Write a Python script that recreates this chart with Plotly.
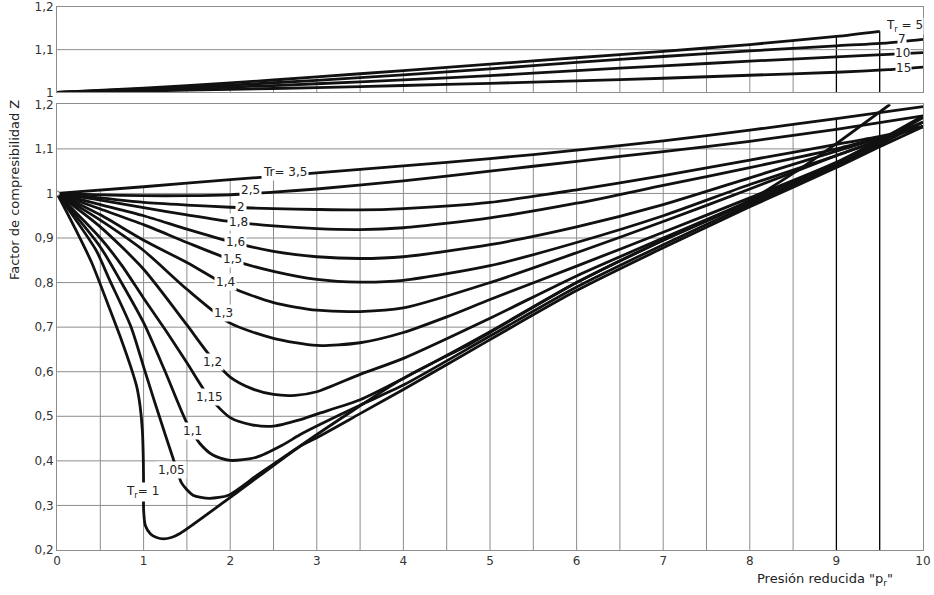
import numpy as np
import plotly.graph_objects as go

# ---------------- data ----------------
# Upper panel: high reduced temperatures
PR_T5 = [0, 1, 2, 3, 4, 5, 6, 7, 8, 9, 9.5]
Z_T5 = [1.0, 1.010, 1.022, 1.036, 1.051, 1.066, 1.081, 1.096, 1.112, 1.131, 1.143]
PR_T7 = [0, 1, 2, 3, 4, 5, 6, 7, 8, 9, 9.6, 10]
Z_T7 = [1.0, 1.008, 1.017, 1.028, 1.041, 1.055, 1.070, 1.084, 1.097, 1.109, 1.116, 1.124]
PR_T10 = [0, 1, 2, 3, 4, 5, 6, 7, 8, 9, 9.6, 10]
Z_T10 = [1.0, 1.006, 1.012, 1.020, 1.029, 1.039, 1.051, 1.062, 1.073, 1.083, 1.089, 1.093]
PR_T15 = [0, 1, 2, 3, 4, 5, 6, 7, 8, 9, 9.6, 10]
Z_T15 = [1.0, 1.003, 1.007, 1.011, 1.016, 1.021, 1.027, 1.033, 1.040, 1.047, 1.053, 1.059]

# Lower panel
PR_35 = [0, 1, 2, 3, 4, 5, 6, 7, 8, 9, 10]
Z_35 = [1.0, 1.015, 1.031, 1.046, 1.062, 1.078, 1.097, 1.118, 1.142, 1.168, 1.195]
PR_25 = [0, 0.5, 1, 1.5, 2, 2.5, 3, 4, 5, 6, 7, 8, 9, 10]
Z_25 = [1.0, 0.997, 0.995, 0.995, 0.997, 1.003, 1.010, 1.028, 1.050, 1.072, 1.094, 1.117, 1.144, 1.174]
PR_20 = [0, 0.5, 1, 1.5, 2, 2.5, 3, 3.5, 4, 5, 6, 7, 8, 9, 9.5, 10]
Z_20 = [1.0, 0.990, 0.980, 0.974, 0.969, 0.966, 0.964, 0.963, 0.966, 0.980, 1.008, 1.040, 1.075, 1.110, 1.128, 1.150]
PR_18 = [0, 0.5, 1, 1.5, 2, 2.5, 3, 3.5, 4, 5, 6, 7, 8, 9, 9.5, 10]
Z_18 = [1.0, 0.985, 0.968, 0.952, 0.937, 0.927, 0.921, 0.919, 0.923, 0.945, 0.978, 1.018, 1.058, 1.100, 1.125, 1.150]
PR_16 = [0, 0.5, 1, 1.5, 2, 2.5, 3, 3.5, 4, 5, 6, 7, 8, 9, 9.5, 10]
Z_16 = [1.0, 0.975, 0.950, 0.920, 0.892, 0.870, 0.858, 0.854, 0.858, 0.885, 0.925, 0.975, 1.035, 1.095, 1.124, 1.150]
PR_15 = [0, 0.5, 1, 1.5, 2, 2.5, 3, 3.5, 4, 5, 6, 7, 8, 9, 9.5, 10]
Z_15 = [1.0, 0.965, 0.930, 0.890, 0.852, 0.825, 0.807, 0.801, 0.805, 0.838, 0.890, 0.950, 1.020, 1.085, 1.120, 1.150]
PR_14 = [0, 0.5, 1, 1.5, 2, 2.5, 3, 3.5, 4, 5, 6, 7, 8, 9, 9.5, 10]
Z_14 = [1.0, 0.952, 0.895, 0.845, 0.790, 0.755, 0.738, 0.735, 0.743, 0.800, 0.867, 0.937, 1.010, 1.085, 1.120, 1.160]
PR_13 = [0, 0.5, 1, 1.5, 2, 2.5, 3, 3.5, 4, 4.5, 5, 6, 7, 8, 9, 9.5, 10]
Z_13 = [1.0, 0.940, 0.872, 0.785, 0.709, 0.675, 0.659, 0.665, 0.688, 0.723, 0.762, 0.837, 0.913, 0.990, 1.070, 1.120, 1.174]
PR_12 = [0, 0.5, 1, 1.5, 1.75, 2, 2.25, 2.5, 2.75, 3, 3.5, 4, 5, 6, 7, 8, 9, 9.5, 10]
Z_12 = [1.0, 0.925, 0.830, 0.705, 0.640, 0.588, 0.562, 0.549, 0.547, 0.555, 0.594, 0.630, 0.720, 0.815, 0.900, 0.983, 1.068, 1.115, 1.174]
PR_115 = [0, 0.5, 0.75, 1, 1.25, 1.5, 1.75, 2, 2.25, 2.5, 2.8, 3, 3.5, 4, 5, 6, 7, 8, 9, 9.5, 10]
Z_115 = [1.0, 0.900, 0.838, 0.765, 0.694, 0.620, 0.545, 0.497, 0.481, 0.478, 0.492, 0.505, 0.537, 0.585, 0.690, 0.800, 0.895, 0.980, 1.065, 1.115, 1.170]
PR_11 = [0, 0.5, 0.75, 1, 1.25, 1.5, 1.65, 1.8, 2, 2.3, 2.6, 2.8, 3, 3.5, 4, 5, 6, 7, 8, 9, 9.5, 10]
Z_11 = [1.0, 0.880, 0.798, 0.710, 0.600, 0.485, 0.439, 0.413, 0.401, 0.408, 0.435, 0.458, 0.478, 0.525, 0.570, 0.680, 0.790, 0.885, 0.975, 1.060, 1.110, 1.160]
PR_105 = [0, 0.45, 0.6, 0.856, 1, 1.12, 1.25, 1.35, 1.44, 1.57, 1.76, 1.98, 2.3, 2.8, 3, 3.5, 4, 5, 6, 7, 8, 9, 9.5, 10]
Z_105 = [1.0, 0.873, 0.809, 0.700, 0.611, 0.537, 0.459, 0.400, 0.350, 0.323, 0.316, 0.323, 0.366, 0.432, 0.452, 0.506, 0.560, 0.672, 0.782, 0.878, 0.970, 1.058, 1.105, 1.150]
PR_10 = [0, 0.2, 0.4, 0.6, 0.75, 0.85, 0.92, 0.96, 0.985, 0.997, 1.0, 1.0, 1.02, 1.08, 1.15, 1.23, 1.32, 1.42, 2.0, 2.85, 4.0, 4.75, 5, 6, 7, 8, 8.5, 9, 9.62]
Z_10 = [1.0, 0.925, 0.845, 0.745, 0.668, 0.612, 0.567, 0.522, 0.470, 0.400, 0.330, 0.290, 0.255, 0.236, 0.228, 0.225, 0.228, 0.237, 0.318, 0.439, 0.585, 0.660, 0.688, 0.800, 0.895, 0.985, 1.045, 1.112, 1.200]

UPPER_CURVES = [(PR_T5, Z_T5), (PR_T7, Z_T7), (PR_T10, Z_T10), (PR_T15, Z_T15)]
LOWER_CURVES = [(PR_35, Z_35), (PR_25, Z_25), (PR_20, Z_20), (PR_18, Z_18), (PR_16, Z_16),
                (PR_15, Z_15), (PR_14, Z_14), (PR_13, Z_13), (PR_12, Z_12), (PR_115, Z_115),
                (PR_11, Z_11), (PR_105, Z_105), (PR_10, Z_10)]

UPPER_LABELS = ["T<sub>r</sub> = 5", "7", "10", "15"]
UPPER_LABEL_X = [9.79, 9.76, 9.76, 9.77]
UPPER_LABEL_Y = [1.156, 1.124, 1.092, 1.056]
LOWER_LABELS = ["Tr= 3,5", "2,5", "2", "1,8", "1,6", "1,5", "1,4", "1,3", "1,2", "1,15", "1,1", "1,05", "T<sub>r</sub>= 1"]
LOWER_LABEL_X = [2.63, 2.24, 2.13, 2.10, 2.06, 2.03, 1.95, 1.92, 1.80, 1.76, 1.56, 1.32, 0.985]
LOWER_LABEL_Y = [1.047, 1.008, 0.970, 0.937, 0.892, 0.854, 0.802, 0.731, 0.622, 0.544, 0.467, 0.380, 0.331]

X_TICKS = list(range(0, 11))
Y_TICKS_LOW = [0.2, 0.3, 0.4, 0.5, 0.6, 0.7, 0.8, 0.9, 1.0, 1.1, 1.2]
Y_TEXT_LOW = ["0,2", "0,3", "0,4", "0,5", "0,6", "0,7", "0,8", "0,9", "1", "1,1", "1,2"]
Y_TICKS_UP = [1.0, 1.1, 1.2]
Y_TEXT_UP = ["1", "1,1", "1,2"]

# ---------------- figure ----------------
FONT = "DejaVu Sans, Verdana, sans-serif"
GRID = "#8d8d8d"
INK = "#111111"

fig = go.Figure()

def seg(x0, y0, x1, y1, xa, ya, color=GRID, width=1):
    fig.add_trace(go.Scatter(x=[x0, x1], y=[y0, y1], mode="lines", xaxis=xa, yaxis=ya,
                             line=dict(color=color, width=width), hoverinfo="skip", showlegend=False))

grid_x = np.arange(0.5, 10, 0.5)
# lower panel vertical grid: from bottom up to the top curve
for gx in grid_x:
    dark = gx in (9.0, 9.5)
    seg(gx, 0.2, gx, float(np.interp(gx, PR_35, Z_35)), "x", "y",
        color="#000000" if dark else GRID, width=1.3 if dark else 1)
# lower panel horizontal grid: from left up to the lower envelope of the curves
xs = np.linspace(1.35, 10, 4000)
env = np.min([np.interp(xs, np.array(px)[np.array(px) >= 1.3], np.array(pz)[np.array(px) >= 1.3])
              for px, pz in LOWER_CURVES], axis=0)
for gy in Y_TICKS_LOW[1:-1]:
    idx = int(np.argmax(env >= gy - 1e-9))
    seg(0, gy, float(xs[idx]), gy, "x", "y")
# upper panel grid
for gx in grid_x:
    dark = gx in (9.0, 9.5)
    seg(gx, 1.0, gx, float(np.interp(gx, PR_T5, Z_T5)), "x2", "y2",
        color="#000000" if dark else GRID, width=1.3 if dark else 1)
seg(0, 1.1, 10, 1.1, "x2", "y2")

for px, pz in UPPER_CURVES:
    fig.add_trace(go.Scatter(x=px, y=pz, mode="lines", xaxis="x2", yaxis="y2",
                             line=dict(color=INK, width=2.8, shape="spline", smoothing=0.6),
                             hoverinfo="skip", showlegend=False))
for px, pz in LOWER_CURVES:
    fig.add_trace(go.Scatter(x=px, y=pz, mode="lines", xaxis="x", yaxis="y",
                             line=dict(color=INK, width=2.8, shape="spline", smoothing=0.7),
                             hoverinfo="skip", showlegend=False))
# small open circle at the common origin of the curves
fig.add_trace(go.Scatter(x=[PR_35[0]], y=[Z_35[0]], mode="markers", xaxis="x", yaxis="y",
                         marker=dict(symbol="circle", size=5, color="white",
                                     line=dict(color="#777777", width=1)),
                         hoverinfo="skip", showlegend=False))

annotations = []
for t, x, y in zip(LOWER_LABELS, LOWER_LABEL_X, LOWER_LABEL_Y):
    annotations.append(dict(text=t, x=x, y=y, xref="x", yref="y", showarrow=False,
                            font=dict(family=FONT, size=12, color="#222"),
                            bgcolor="white", borderpad=1))
for t, x, y in zip(UPPER_LABELS, UPPER_LABEL_X, UPPER_LABEL_Y):
    annotations.append(dict(text=t, x=x, y=y, xref="x2", yref="y2", showarrow=False,
                            font=dict(family=FONT, size=12, color="#222"),
                            bgcolor="white", borderpad=0))
annotations.append(dict(text='Presión reducida "p<sub>r</sub>"', x=0.968, y=-0.055,
                        xref="paper", yref="paper", xanchor="right", yanchor="middle",
                        showarrow=False, font=dict(family=FONT, size=13, color="#222")))
annotations.append(dict(text="Factor de compresibilidad Z", x=-0.049, y=0.662,
                        xref="paper", yref="paper", textangle=-90, xanchor="center",
                        yanchor="middle", showarrow=False,
                        font=dict(family=FONT, size=13, color="#222")))

axis_common = dict(showgrid=False, zeroline=False, showline=True, mirror=True,
                   linecolor=GRID, linewidth=1, ticks="", automargin=False,
                   tickfont=dict(family=FONT, size=12, color="#333"))

fig.update_layout(
    width=934, height=595,
    margin=dict(l=57, r=11, t=7, b=45),
    paper_bgcolor="white", plot_bgcolor="white",
    showlegend=False,
    annotations=annotations,
    xaxis=dict(domain=[0, 1], range=[0, 10], tickvals=X_TICKS, anchor="y", **axis_common),
    yaxis=dict(domain=[0, 0.8208], range=[0.2, 1.2], tickvals=Y_TICKS_LOW, ticktext=Y_TEXT_LOW,
               anchor="x", **axis_common),
    xaxis2=dict(domain=[0, 1], range=[0, 10], showticklabels=False, anchor="y2", **axis_common),
    yaxis2=dict(domain=[0.8429, 1], range=[1.0, 1.2], tickvals=Y_TICKS_UP, ticktext=Y_TEXT_UP,
                anchor="x2", **axis_common),
)

fig.write_html("out.html", config={"displayModeBar": False},
               post_script="document.body.style.margin='0';")
